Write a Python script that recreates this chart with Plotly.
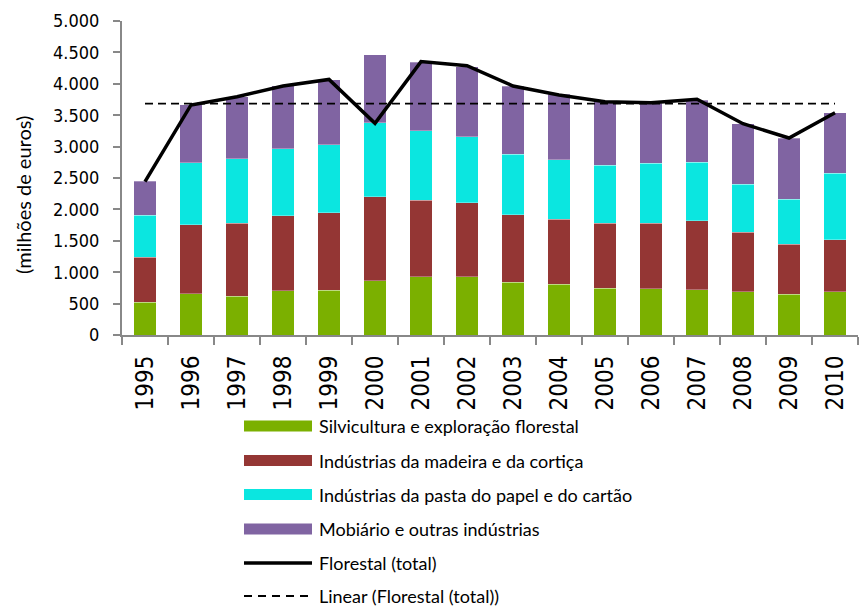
import plotly.graph_objects as go

FONT_AXIS = "DejaVu Sans Condensed, DejaVu Sans, sans-serif"
FONT_TEXT = "Lato, Open Sans, sans-serif"

anos = [str(a) for a in range(1995, 2011)]

silvicultura = [520, 653, 621, 701, 711, 865, 924, 924, 844, 812, 748, 733, 717, 685, 648, 690]
madeira_cortica = [722, 1104, 1162, 1194, 1232, 1333, 1220, 1178, 1067, 1035, 1030, 1050, 1104, 955, 796, 828]
pasta_papel = [664, 982, 1020, 1067, 1083, 1178, 1105, 1051, 971, 940, 929, 951, 929, 759, 716, 1056]
mobiliario = [546, 924, 992, 1008, 1040, 1083, 1093, 1120, 1083, 1045, 1009, 955, 992, 966, 977, 966]
florestal_total = [2442, 3663, 3795, 3965, 4070, 3371, 4353, 4289, 3965, 3822, 3716, 3700, 3753, 3365, 3137, 3540]
tendencia_x = ["1995", "2010"]
tendencia_y = [3685, 3685]

series = [
    ("Silvicultura e exploração florestal", silvicultura, "#7BB000"),
    ("Indústrias da madeira e da cortiça", madeira_cortica, "#943634"),
    ("Indústrias da pasta do papel e do cartão", pasta_papel, "#0BE6E0"),
    ("Mobiário e outras indústrias", mobiliario, "#8064A2"),
]

fig = go.Figure()
for nome, valores, cor in series:
    fig.add_trace(go.Bar(
        x=anos, y=valores, name=nome,
        marker=dict(color=cor, line=dict(color="rgba(255,255,255,0.6)", width=0.5)),
        showlegend=False,
    ))

fig.add_trace(go.Scatter(
    x=anos, y=florestal_total, name="Florestal (total)",
    mode="lines", line=dict(color="#000000", width=3.5),
    showlegend=False,
))
fig.add_trace(go.Scatter(
    x=tendencia_x, y=tendencia_y, name="Linear (Florestal (total))",
    mode="lines", line=dict(color="#000000", width=1.8, dash="8px,5px"),
    showlegend=False,
))

# legenda desenhada à mão (símbolos largos como no original)
W, H = 862, 607
L, R, T, B = 122, 4, 21, 272
pw, ph = W - L - R, H - T - B


def px(x):
    return (x - L) / pw


def py(y):
    return (H - B - y) / ph


legenda = [(n, c, "bar") for n, _, c in series] + [
    ("Florestal (total)", "#000000", "line"),
    ("Linear (Florestal (total))", "#000000", "dash"),
]
linhas_y = [426, 460.5, 494.5, 529, 563, 596]
shapes, annots = [], []
for (nome, cor, tipo), yy in zip(legenda, linhas_y):
    if tipo == "bar":
        shapes.append(dict(type="rect", xref="paper", yref="paper",
                           x0=px(244), x1=px(312), y0=py(yy - 5.5), y1=py(yy + 5.5),
                           fillcolor=cor, line=dict(width=0)))
    else:
        shapes.append(dict(type="line", xref="paper", yref="paper",
                           x0=px(244), x1=px(312), y0=py(yy), y1=py(yy),
                           line=dict(color=cor, width=3.5 if tipo == "line" else 1.8,
                                     dash="solid" if tipo == "line" else "8px,6px")))
    annots.append(dict(text=nome, xref="paper", yref="paper", x=px(318), y=py(yy),
                       xanchor="left", yanchor="middle", showarrow=False, borderpad=0,
                       font=dict(family=FONT_TEXT, size=18, color="#000000")))

# título do eixo y (um pouco abaixo do centro, como no original)
annots.append(dict(text="(milhões de euros)", xref="paper", yref="paper",
                   x=px(23), y=py(195), textangle=-90, showarrow=False,
                   xanchor="center", yanchor="middle",
                   font=dict(family=FONT_TEXT, size=20, color="#000000")))

fig.update_layout(
    width=W, height=H,
    paper_bgcolor="#FFFFFF", plot_bgcolor="#FFFFFF",
    margin=dict(l=L, r=R, t=T, b=B, autoexpand=False),
    barmode="stack", bargap=0.52,
    separators=",.",
    showlegend=False,
    shapes=shapes, annotations=annots,
    xaxis=dict(
        type="category", tickangle=-90, tickson="boundaries",
        ticks="outside", ticklen=8, tickcolor="#888888", tickwidth=1.5,
        showline=True, linecolor="#888888", linewidth=2,
        showgrid=False, zeroline=False, ticklabelstandoff=9,
        tickfont=dict(family=FONT_AXIS, size=24, color="#000000"),
    ),
    yaxis=dict(
        range=[0, 5000], dtick=500, tickformat=",d",
        ticks="outside", ticklen=7, tickcolor="#888888", tickwidth=1.5,
        showline=True, linecolor="#888888", linewidth=2,
        showgrid=False, zeroline=False, ticklabelstandoff=10,
        tickfont=dict(family=FONT_AXIS, size=18, color="#000000"),
    ),
)

fig.write_html("out.html", config=dict(displayModeBar=False),
               post_script="document.body.style.margin='0';")
